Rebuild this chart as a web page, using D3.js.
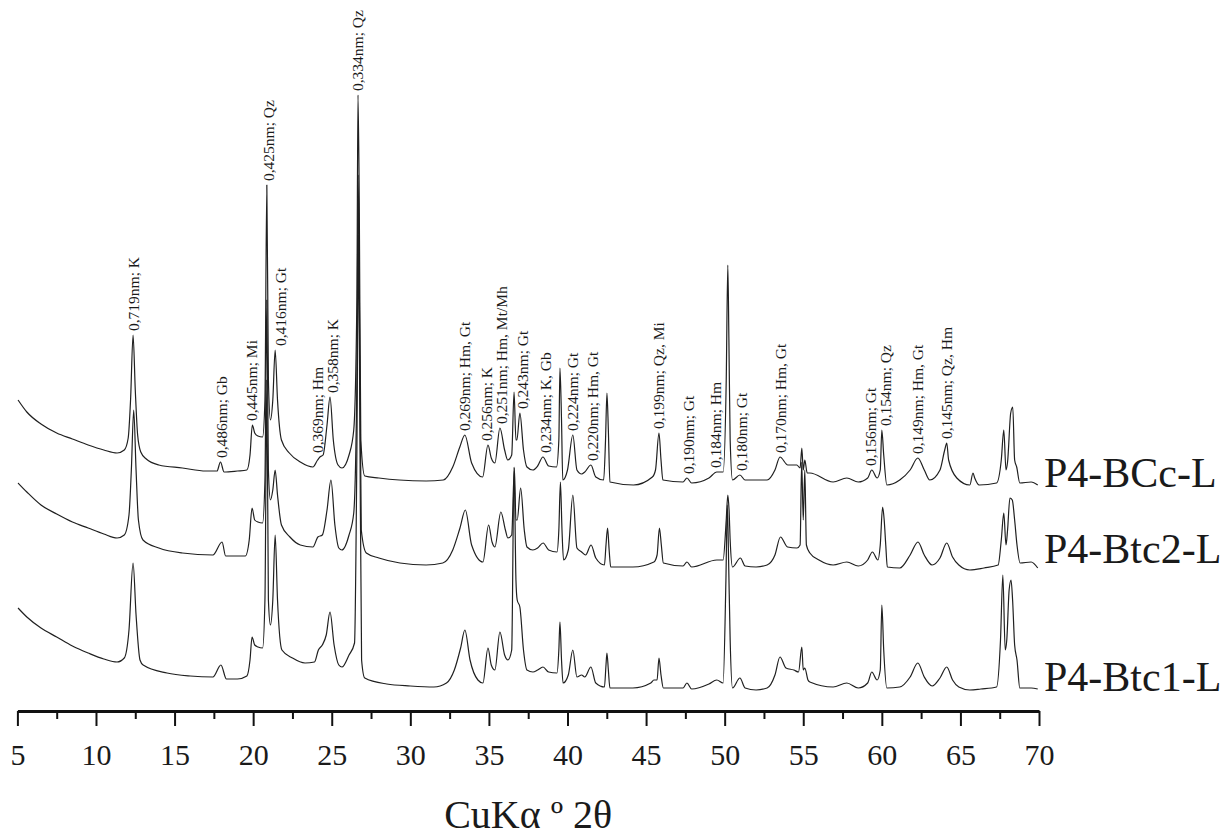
<!DOCTYPE html>
<html>
<head>
<meta charset="utf-8">
<script src="https://cdn.jsdelivr.net/npm/d3@7"></script>
<style>
  html, body { margin: 0; background: #fff; }
  svg { display: block; }
  text { font-family: "Liberation Serif", "Times New Roman", Times, serif; fill: #1a1a1a; }
</style>
</head>
<body>
<svg id="chart" width="1230" height="838"></svg>
<script>
// ---- Diffractograms (2θ in degrees, intensity in counts) ----
const sampleNames = ["P4-BCc-L", "P4-Btc2-L", "P4-Btc1-L"];
const stackOffsets = [2200, 1350, 150];

const bccL = [
  [5.04,910],[5.6,790],[6.5,670],[7.5,580],[8.5,520],[9.5,460],[10.5,410],[11.34,380],[11.8,410],[12.05,530],
  [12.2,910],[12.36,1560],[12.5,1010],[12.65,560],[12.85,390],[13.2,320],[14.0,260],[15.5,230],[17.0,200],[17.7,200],
  [17.92,290],[18.15,190],[19.0,200],[19.6,210],[19.8,360],[19.95,660],[20.1,580],[20.3,550],[20.6,540],[20.75,910],
  [20.87,3060],[20.97,1110],[21.1,710],[21.25,910],[21.4,1410],[21.55,910],[21.8,510],[22.3,380],[23.0,290],[23.8,240],
  [24.1,310],[24.25,340],[24.45,360],[24.7,660],[24.89,940],[25.1,510],[25.4,260],[25.65,230],[26.1,360],[26.4,610],
  [26.6,1910],[26.67,3960],[26.75,2910],[26.85,510],[27.1,150],[28.0,130],[29.3,110],[31.0,100],[32.1,110],[32.7,240],
  [33.15,440],[33.47,560],[33.9,280],[34.6,140],[34.94,460],[35.15,330],[35.38,280],[35.7,630],[36.0,410],[36.2,310],
  [36.45,360],[36.6,990],[36.72,510],[36.78,510],[36.97,780],[37.2,410],[37.42,240],[37.8,210],[38.1,250],[38.44,340],
  [38.8,250],[39.3,240],[39.45,510],[39.52,1230],[39.62,710],[39.7,110],[40.0,210],[40.34,560],[40.6,210],[40.9,170],
  [41.1,190],[41.49,260],[41.8,140],[42.3,110],[42.42,510],[42.51,980],[42.6,610],[42.7,90],[44.2,60],[45.4,140],
  [45.6,210],[45.82,580],[45.95,310],[46.07,110],[47.35,90],[47.6,130],[47.9,80],[49.0,130],[49.5,190],[49.9,190],
  [50.1,1110],[50.2,2260],[50.27,1510],[50.35,510],[50.5,110],[50.97,160],[51.3,110],[52.7,110],[53.2,210],[53.52,340],
  [54.02,260],[54.59,260],[54.8,230],[54.91,430],[55.0,210],[55.1,310],[55.25,180],[55.42,180],[56.9,90],[57.77,130],
  [58.5,90],[59.1,130],[59.36,210],[59.7,130],[59.9,210],[60.0,610],[60.12,360],[60.32,60],[61.14,110],[61.8,210],
  [62.29,330],[62.7,210],[63.05,110],[63.7,210],[64.0,410],[64.13,480],[64.25,310],[64.77,130],[65.6,60],[65.8,180],
  [65.91,130],[66.2,60],[67.3,80],[67.6,310],[67.76,610],[67.9,210],[68.0,290],[68.2,780],[68.33,840],[68.45,310],
  [68.58,240],[68.78,80],[69.5,90],[69.92,60]
];

const btc2L = [
  [5.04,930],[5.6,840],[6.5,710],[7.5,620],[8.5,540],[9.5,480],[10.5,420],[11.34,380],[11.8,410],[12.1,610],
  [12.25,1060],[12.4,1660],[12.55,1060],[12.7,560],[12.99,360],[14.0,280],[15.5,230],[17.44,210],[18.02,340],[18.25,200],
  [19.5,200],[19.75,360],[19.93,680],[20.1,560],[20.3,540],[20.6,530],[20.75,960],[20.87,2760],[20.97,1060],[21.1,760],
  [21.25,860],[21.4,1060],[21.55,810],[21.8,510],[22.34,390],[23.0,310],[23.8,290],[24.12,390],[24.4,410],[24.7,660],
  [24.95,960],[25.2,510],[25.45,280],[25.65,260],[26.1,410],[26.4,630],[26.6,1960],[26.68,4010],[26.76,2760],[26.88,460],
  [27.2,230],[28.0,180],[29.34,130],[31.0,110],[32.07,130],[32.7,260],[33.16,480],[33.5,660],[33.9,310],[34.62,140],
  [34.98,510],[35.2,340],[35.38,290],[35.76,640],[36.05,460],[36.21,380],[36.45,410],[36.62,1080],[36.72,560],[36.8,560],
  [37.02,880],[37.25,460],[37.42,290],[37.8,260],[38.1,280],[38.45,330],[38.8,260],[39.33,240],[39.45,460],[39.55,940],
  [39.65,460],[39.75,160],[40.05,260],[40.34,810],[40.6,280],[40.9,240],[41.15,210],[41.5,310],[41.8,180],[42.35,110],
  [42.45,310],[42.55,480],[42.65,260],[42.75,90],[44.16,90],[45.5,140],[45.7,210],[45.85,480],[45.97,310],[46.1,130],
  [47.35,100],[47.6,140],[47.9,90],[49.5,160],[49.9,160],[50.1,560],[50.2,810],[50.28,660],[50.35,360],[50.5,90],
  [51.0,180],[51.3,100],[52.0,90],[52.7,110],[53.2,210],[53.55,390],[54.0,290],[54.6,280],[54.8,310],[54.9,1140],
  [55.0,560],[55.1,1060],[55.2,310],[55.42,230],[56.0,160],[56.9,110],[57.77,140],[58.5,100],[59.1,160],[59.4,240],
  [59.75,160],[59.9,310],[60.05,690],[60.15,560],[60.25,310],[60.35,90],[61.14,80],[61.8,210],[62.3,340],[62.7,210],
  [63.2,110],[63.7,180],[64.13,330],[64.5,190],[64.9,110],[65.6,60],[66.5,80],[67.4,110],[67.6,360],[67.76,630],
  [67.9,310],[68.0,460],[68.15,780],[68.3,760],[68.45,560],[68.6,310],[68.8,130],[69.5,140],[69.92,80]
];

const btc1L = [
  [5.04,880],[5.6,790],[6.5,680],[7.5,590],[8.5,500],[9.5,430],[10.5,370],[11.34,340],[11.8,380],[12.1,660],
  [12.36,1330],[12.55,810],[12.8,360],[13.0,310],[14.52,230],[16.0,200],[17.44,190],[17.95,310],[18.3,170],[19.0,170],
  [19.6,200],[19.8,360],[19.93,590],[20.1,510],[20.31,490],[20.6,480],[20.75,960],[20.87,3160],[20.97,960],[21.1,710],
  [21.25,960],[21.4,1610],[21.55,960],[21.83,460],[22.5,380],[23.3,330],[23.9,340],[24.15,460],[24.4,510],[24.65,610],
  [24.89,840],[25.15,510],[25.45,310],[25.65,290],[26.1,410],[26.45,530],[26.6,2460],[26.7,4610],[26.78,2960],[26.9,360],
  [27.1,180],[28.5,120],[30.0,100],[31.5,90],[32.3,130],[32.8,260],[33.2,480],[33.47,660],[33.8,360],[34.3,160],
  [34.62,130],[34.94,480],[35.15,310],[35.38,260],[35.7,640],[36.0,410],[36.21,360],[36.45,460],[36.6,2290],[36.72,1160],
  [36.8,960],[36.97,890],[37.2,460],[37.42,260],[37.8,240],[38.1,260],[38.44,290],[38.8,240],[39.33,230],[39.45,460],
  [39.52,740],[39.62,360],[39.72,130],[40.05,210],[40.34,460],[40.6,190],[40.9,210],[41.1,190],[41.49,290],[41.8,130],
  [42.35,90],[42.45,310],[42.51,430],[42.6,260],[42.7,80],[44.16,80],[45.3,130],[45.5,160],[45.7,160],[45.82,380],
  [45.95,210],[46.1,80],[47.35,80],[47.6,130],[47.9,70],[49.0,120],[49.5,160],[49.9,130],[50.08,1160],[50.17,1910],
  [50.25,1360],[50.35,560],[50.5,80],[50.97,180],[51.3,80],[52.0,60],[52.7,80],[53.2,210],[53.52,390],[53.9,280],
  [54.4,260],[54.7,240],[54.91,490],[55.0,260],[55.1,280],[55.3,160],[55.42,140],[56.9,90],[57.77,130],[58.5,80],
  [59.1,130],[59.36,240],[59.7,160],[59.9,260],[60.0,910],[60.12,460],[60.32,80],[61.14,90],[61.8,190],[62.29,330],
  [62.7,190],[63.2,100],[63.7,180],[64.13,290],[64.5,160],[64.9,90],[65.6,60],[66.3,70],[67.3,90],[67.55,560],
  [67.7,1210],[67.85,460],[67.95,560],[68.1,1060],[68.22,1160],[68.32,960],[68.45,510],[68.6,360],[68.78,80],[69.5,80],
  [69.92,70]
];

// ---- Axis ticks ----
const majorTicks = [5, 10, 15, 20, 25, 30, 35, 40, 45, 50, 55, 60, 65, 70];
const minorTicks = [7.5, 12.5, 17.5, 22.5, 27.5, 32.5, 37.5, 42.5, 47.5, 52.5, 57.5, 62.5, 67.5];

// ---- Reflection labels: text, 2θ of the reflection, 2θ where the text sits ----
const reflectionText = [
  "0,719nm; K", "0,486nm; Gb", "0,445nm; Mi", "0,425nm; Qz", "0,416nm; Gt", "0,369nm; Hm",
  "0,358nm; K", "0,334nm; Qz", "0,269nm; Hm, Gt", "0,256nm; K", "0,251nm; Hm, Mt/Mh", "0,243nm; Gt",
  "0,234nm; K, Gb", "0,224nm; Gt", "0,220nm; Hm, Gt", "0,199nm; Qz, Mi", "0,190nm; Gt", "0,184nm; Hm",
  "0,180nm; Gt", "0,170nm; Hm, Gt", "0,156nm; Gt", "0,154nm; Qz", "0,149nm; Hm, Gt", "0,145nm; Qz, Hm"
];
const reflectionPeak = [
  12.36, 17.92, 19.95, 20.87, 21.4, 24.25, 24.89, 26.67, 33.47, 34.94, 35.7, 36.97,
  38.44, 40.34, 41.49, 45.82, 47.6, 49.5, 50.97, 53.52, 59.36, 60.0, 62.29, 64.13
];
const reflectionTextAt = [
  12.36, 18.02, 19.93, 20.95, 21.77, 24.12, 25.08, 26.67, 33.47, 34.87, 35.83, 37.16,
  38.63, 40.34, 41.62, 45.82, 47.73, 49.45, 51.10, 53.58, 59.30, 60.25, 62.29, 64.13
];

// ---- Layout ----
const svg = d3.select("#chart");
const x = d3.scaleLinear().domain([5, 70]).range([17.4, 1039]);
const y = d3.scaleLinear().domain([0, 7000]).range([711, 11]);

const series = [bccL, btc2L, btc1L];
const line = d3.line().curve(d3.curveMonotoneX).x(d => x(d[0])).y(d => y(d[1]));

const traces = svg.append("g").attr("fill", "none").attr("stroke", "#202020")
  .attr("stroke-width", 1.2).attr("stroke-linejoin", "round");
series.forEach((pts, i) => {
  traces.append("path")
    .datum(pts.map(p => [p[0], p[1] + stackOffsets[i]]))
    .attr("d", line);
});

// Sample names at the right end of each trace
const nameBaselines = [487, 563, 691];
sampleNames.forEach((name, i) => {
  svg.append("text")
    .attr("x", 1044)
    .attr("y", nameBaselines[i])
    .attr("font-size", 42)
    .text(name);
});

// Reflection labels, anchored just above the top trace
const topTrace = series[0];
reflectionText.forEach((t, i) => {
  const near = topTrace.filter(p => Math.abs(p[0] - reflectionPeak[i]) <= 0.12);
  const iMax = d3.max(near, p => p[1]) + stackOffsets[0];
  const px = x(reflectionTextAt[i]);
  const py = y(iMax) - 4;
  svg.append("text")
    .attr("transform", `translate(${px},${py}) rotate(-90)`)
    .attr("dy", "0.35em")
    .attr("font-size", 15.5)
    .attr("text-anchor", "start")
    .text(t);
});

// X axis
const axisY = 711;
const gMinor = svg.append("g").attr("transform", `translate(0,${axisY})`)
  .call(d3.axisBottom(x).tickValues(minorTicks).tickSize(8).tickSizeOuter(0).tickFormat(""));
gMinor.select(".domain").remove();
gMinor.selectAll("line").attr("stroke", "#111").attr("stroke-width", 2);

const gMajor = svg.append("g").attr("transform", `translate(0,${axisY})`)
  .call(d3.axisBottom(x).tickValues(majorTicks).tickSize(15).tickSizeOuter(0).tickPadding(18)
    .tickFormat(d3.format("d")));
gMajor.select(".domain").attr("stroke", "#111").attr("stroke-width", 3);
gMajor.selectAll(".tick line").attr("stroke", "#111").attr("stroke-width", 2);
gMajor.selectAll(".tick text")
  .attr("font-size", 30)
  .attr("font-family", '"Liberation Serif", "Times New Roman", Times, serif')
  .attr("fill", "#1a1a1a");

// Axis title
svg.append("text")
  .attr("x", (x(5) + x(70)) / 2)
  .attr("y", 828)
  .attr("text-anchor", "middle")
  .attr("font-size", 40)
  .text("CuKα º 2θ");
</script>
</body>
</html>
